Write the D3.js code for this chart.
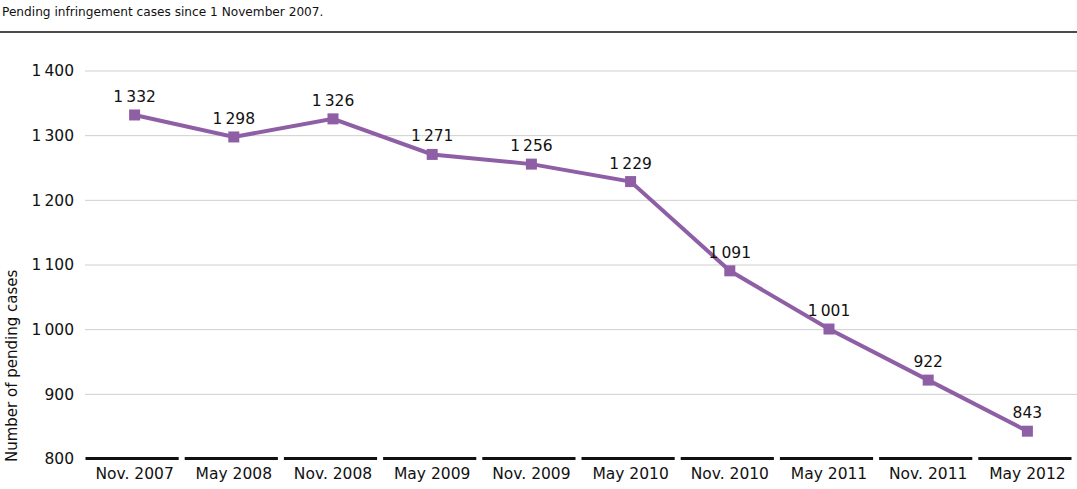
<!DOCTYPE html>
<html><head><meta charset="utf-8">
<script src="https://cdn.jsdelivr.net/npm/d3@7"></script>
<style>body{margin:0;background:#fff}svg{display:block;font-family:"DejaVu Sans",sans-serif}</style>
</head><body>
<svg id="c" width="1077" height="489"></svg>
<script>
const categories = ["Nov. 2007","May 2008","Nov. 2008","May 2009","Nov. 2009","May 2010","Nov. 2010","May 2011","Nov. 2011","May 2012"];
const pendingCases = [1332,1298,1326,1271,1256,1229,1091,1001,922,843];
const yTicks = [800,900,1000,1100,1200,1300,1400];
const title = "Pending infringement cases since 1 November 2007.";
const yTitle = "Number of pending cases";

const svg = d3.select("#c");
const loc = d3.formatLocale({decimal:".", thousands:"\u202F", grouping:[3], currency:["",""]});
const fmt = loc.format(",d");
const color = "#8f5fa5";
const FONT = "DejaVu Sans";

const x = d3.scaleBand().domain(categories).range([85,1077]);
const y = d3.scaleLinear().domain([800,1400]).range([459,71]);

svg.append("text").attr("x",2).attr("y",16).attr("font-size",12.15).attr("fill","#111").text(title);
svg.append("line").attr("x1",0).attr("x2",1077).attr("y1",32).attr("y2",32).attr("stroke","#111").attr("stroke-width",1.5);

// grid
svg.append("g").selectAll("line").data(yTicks.filter(d=>d>800)).join("line")
  .attr("x1",85).attr("x2",1077).attr("y1",d=>y(d)).attr("y2",d=>y(d))
  .attr("stroke","#cfcfcf").attr("stroke-width",1);

// y axis
const ya = svg.append("g").attr("transform","translate(85,0)")
  .call(d3.axisLeft(y).tickValues(yTicks).tickFormat(fmt).tickSize(0).tickPadding(11));
ya.select(".domain").remove();
ya.selectAll("text").attr("font-size",15.5).attr("fill","#111").attr("font-family",FONT);

svg.append("text").attr("transform","translate(17,462) rotate(-90)").attr("text-anchor","start")
  .attr("font-size",15).attr("fill","#111").text(yTitle);

// x axis segments
svg.append("g").selectAll("line").data(categories).join("line")
  .attr("x1",d=>x(d)+0.5).attr("x2",d=>x(d)+x.bandwidth()-5.5)
  .attr("y1",458.5).attr("y2",458.5).attr("stroke","#111").attr("stroke-width",3);
const xa = svg.append("g").attr("transform","translate(0,459)")
  .call(d3.axisBottom(x).tickSize(0).tickPadding(9));
xa.select(".domain").remove();
xa.selectAll("text").attr("font-size",15.5).attr("fill","#111").attr("font-family",FONT);

const cx = (d,i)=>x(categories[i])+x.bandwidth()/2;
svg.append("path").datum(pendingCases)
  .attr("d", d3.line().x(cx).y(d=>y(d)))
  .attr("fill","none").attr("stroke",color).attr("stroke-width",4);
svg.append("g").selectAll("rect").data(pendingCases).join("rect")
  .attr("x",(d,i)=>cx(d,i)-5.5).attr("y",d=>y(d)-5.5).attr("width",11).attr("height",11).attr("fill",color);
svg.append("g").selectAll("text").data(pendingCases).join("text")
  .attr("x",cx).attr("y",d=>y(d)-13).attr("text-anchor","middle")
  .attr("font-size",15.5).attr("fill","#111").text(d=>fmt(d));
</script>
</body></html>
